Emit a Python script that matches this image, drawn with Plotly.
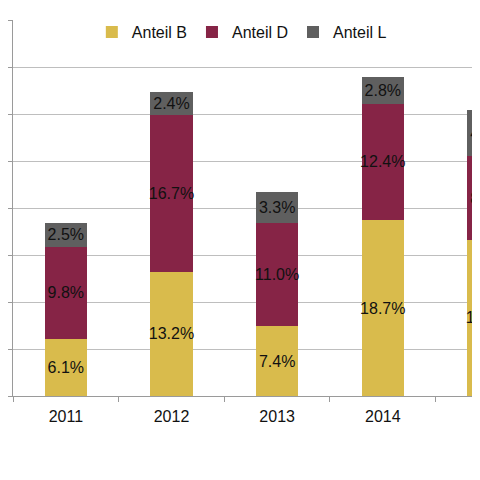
import plotly.graph_objects as go

# Anteile je Jahr (in %)
jahre = ["2011", "2012", "2013", "2014", "2015"]
anteil_b = [6.1, 13.2, 7.4, 18.7, 16.6]
anteil_d = [9.8, 16.7, 11.0, 12.4, 8.9]
anteil_l = [2.5, 2.4, 3.3, 2.8, 4.9]

serien = [
    ("Anteil B", anteil_b, "#D9BB4C"),
    ("Anteil D", anteil_d, "#862446"),
    ("Anteil L", anteil_l, "#5F5F5F"),
]

fig = go.Figure()
for name, werte, farbe in serien:
    fig.add_trace(go.Bar(
        x=jahre, y=werte, name=name,
        marker=dict(color=farbe, line=dict(width=0)),
        texttemplate="%{y:.1f}%",
        textposition="inside",
        insidetextanchor="middle",
        textangle=0,
        constraintext="none",
        textfont=dict(color="#111111", size=16),
    ))

# Seite hat 8px Rand -> Figur etwas kleiner, damit kein Scrollbalken entsteht
fig.update_layout(
    barmode="stack",
    bargap=0.6,
    width=472, height=464,
    margin=dict(l=0, r=0, t=12, b=76),
    paper_bgcolor="white",
    plot_bgcolor="white",
    font=dict(family="Arial, Liberation Sans", size=16, color="#222222"),
    legend=dict(
        orientation="h",
        x=0.49, xanchor="center",
        y=0.968, yanchor="middle",
        font=dict(size=16, color="#111111"),
        bgcolor="rgba(0,0,0,0)",
        itemwidth=30,
        traceorder="normal",
    ),
    xaxis=dict(
        type="category",
        range=[-0.5, 3.92],
        tickson="boundaries",
        ticks="outside",
        ticklen=5,
        tickcolor="#9A9A9A",
        ticklabelstandoff=6,
        showline=True,
        linecolor="#9A9A9A",
        showgrid=False,
        tickfont=dict(size=16, color="#111111"),
    ),
    yaxis=dict(
        range=[0, 40],
        dtick=5,
        showgrid=True,
        gridcolor="#BEBEBE",
        showline=True,
        linecolor="#9A9A9A",
        ticks="outside",
        ticklen=5,
        tickcolor="#9A9A9A",
        showticklabels=False,
        zeroline=False,
    ),
)

fig.write_html("out.html")
